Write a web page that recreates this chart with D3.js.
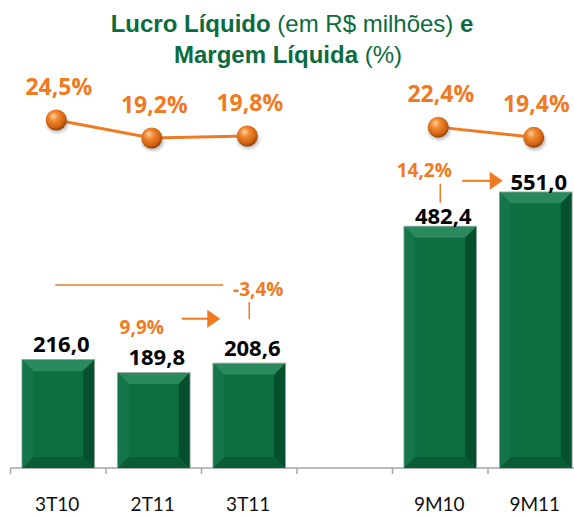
<!DOCTYPE html>
<html>
<head>
<meta charset="utf-8">
<script src="https://cdn.jsdelivr.net/npm/d3@7/dist/d3.min.js"></script>
<style>
  html, body { margin: 0; padding: 0; background: #fff; }
  svg { display: block; }
</style>
</head>
<body>
<svg id="chart" width="574" height="516"></svg>
<script>
// ---- Data ----
const categories = ["3T10", "2T11", "3T11", "", "9M10", "9M11"];
const lucro = [216.0, 189.8, 208.6, null, 482.4, 551.0];       // R$ milhões
const margem = [24.5, 19.2, 19.8, null, 22.4, 19.4];           // %
const growthFrom = [1, 0, 4];      // index of start category
const growthTo = [2, 2, 5];        // index of end category
const growthValues = [9.9, -3.4, 14.2];

// ---- Setup ----
const W = 574, H = 516;
const svg = d3.select("#chart");
const green = "#0B6B3E";
const orange = "#F07A22";
const numFont = "Open Sans, Lato, sans-serif";
const ptBR = d3.formatLocale({decimal: ",", thousands: ".", grouping: [3], currency: ["R$", ""], minus: "-"});
const fmt1 = ptBR.format(".1f");

const idx = d3.range(categories.length);
const x = d3.scaleBand().domain(idx).range([10.5, 583.5]).paddingInner(0.25).paddingOuter(0.125);
const y = d3.scaleLinear().domain([0, 600]).range([468, 168]);
const yM = d3.scaleLinear().domain([19.2, 24.5]).range([138, 120]);

const defs = svg.append("defs");
const rg = defs.append("radialGradient").attr("id", "ball").attr("cx", "45%").attr("cy", "40%").attr("r", "60%").attr("fx", "35%").attr("fy", "30%");
rg.append("stop").attr("offset", "0%").attr("stop-color", "#FFD2A6");
rg.append("stop").attr("offset", "35%").attr("stop-color", "#F28A33");
rg.append("stop").attr("offset", "80%").attr("stop-color", "#D0620F");
rg.append("stop").attr("offset", "100%").attr("stop-color", "#8A3D06");
const blur = defs.append("filter").attr("id", "sh").attr("x", "-50%").attr("y", "-50%").attr("width", "200%").attr("height", "200%");
blur.append("feGaussianBlur").attr("stdDeviation", 1.5);

// ---- Title ----
const title = svg.append("text").attr("text-anchor", "middle")
  .attr("font-family", "Liberation Sans, Arial, sans-serif").attr("font-size", 24).attr("fill", green);
const l1 = title.append("tspan").attr("x", 292).attr("y", 32);
l1.append("tspan").attr("font-weight", "bold").text("Lucro Líquido");
l1.append("tspan").text(" (em R$ milhões) ");
l1.append("tspan").attr("font-weight", "bold").text("e");
const l2 = title.append("tspan").attr("x", 288).attr("y", 63);
l2.append("tspan").attr("font-weight", "bold").text("Margem Líquida");
l2.append("tspan").text(" (%)");

// ---- Axis ----
const axisG = svg.append("g").attr("transform", "translate(0,468)");
axisG.append("line").attr("x1", 10.5).attr("x2", W).attr("y1", 0).attr("y2", 0)
  .attr("stroke", "#A6A6A6").attr("stroke-width", 1.5);
const bounds = idx.map(i => x(i) - x.step() * 0.125).concat([x(idx.length - 1) + x.bandwidth() + x.step() * 0.125]);
axisG.selectAll("line.tick").data(bounds.filter(b => b < W)).join("line").attr("class", "tick")
  .attr("x1", d => d).attr("x2", d => d).attr("y1", 0).attr("y2", 6)
  .attr("stroke", "#A6A6A6").attr("stroke-width", 1.5);
svg.append("g").selectAll("text").data(idx).join("text")
  .attr("x", i => x(i) + x.bandwidth() / 2 - 1).attr("y", 511)
  .attr("text-anchor", "middle").attr("font-family", "Lato, sans-serif").attr("font-size", 19)
  .attr("fill", "#111").text(i => categories[i]);

// ---- Bars (beveled) ----
const barData = idx.filter(i => lucro[i] != null);
const bars = svg.append("g").selectAll("g").data(barData).join("g");
bars.each(function(i) {
  const g = d3.select(this);
  const x0 = x(i), w = x.bandwidth(), y0 = y(lucro[i]), h = y(0) - y(lucro[i]);
  const b = 11;
  const pts = a => a.map(p => p.join(",")).join(" ");
  g.append("rect").attr("x", x0 - 0.5).attr("y", y0 - 0.5).attr("width", w + 1).attr("height", h + 0.5)
    .attr("fill", "none").attr("stroke", "#9aa8a0").attr("stroke-width", 1);
  g.append("rect").attr("x", x0).attr("y", y0).attr("width", w).attr("height", h).attr("fill", "#0D7144");
  g.append("polygon").attr("points", pts([[x0, y0], [x0 + w, y0], [x0 + w - b, y0 + b], [x0 + b, y0 + b]])).attr("fill", "#2A8A5D");
  g.append("polygon").attr("points", pts([[x0, y0], [x0 + b, y0 + b], [x0 + b, y0 + h - b], [x0, y0 + h]])).attr("fill", "#137549");
  g.append("polygon").attr("points", pts([[x0 + w, y0], [x0 + w, y0 + h], [x0 + w - b, y0 + h - b], [x0 + w - b, y0 + b]])).attr("fill", "#07502F");
  g.append("polygon").attr("points", pts([[x0, y0 + h], [x0 + w, y0 + h], [x0 + w - b, y0 + h - b], [x0 + b, y0 + h - b]])).attr("fill", "#0A5C36");
  g.append("rect").attr("x", x0 + b).attr("y", y0 + b).attr("width", w - 2 * b).attr("height", Math.max(0, h - 2 * b)).attr("fill", "#0C6E41");
});
// bar value labels
const labelGap = i => (i >= 4 ? 3 : 8);
svg.append("g").selectAll("text").data(barData).join("text")
  .attr("x", i => x(i) + x.bandwidth() / 2 + 3).attr("y", i => y(lucro[i]) - labelGap(i))
  .attr("text-anchor", "middle").attr("font-family", numFont).attr("font-weight", "bold")
  .attr("font-size", 22).attr("fill", "#000").text(i => fmt1(lucro[i]));

// ---- Margin line ----
const mx = i => x(i) + x.bandwidth() / 2 - 2;
const line = d3.line().defined(i => margem[i] != null).x(mx).y(i => yM(margem[i]));
svg.append("path").datum(idx).attr("d", line).attr("fill", "none").attr("stroke", orange).attr("stroke-width", 3);
const dotData = idx.filter(i => margem[i] != null);
svg.append("g").selectAll("ellipse").data(dotData).join("ellipse")
  .attr("cx", i => mx(i) + 1).attr("cy", i => yM(margem[i]) + 3).attr("rx", 11).attr("ry", 10)
  .attr("fill", "#777").attr("opacity", 0.45).attr("filter", "url(#sh)");
svg.append("g").selectAll("circle").data(dotData).join("circle")
  .attr("cx", mx).attr("cy", i => yM(margem[i])).attr("r", 10.5).attr("fill", "url(#ball)");
svg.append("g").selectAll("text").data(dotData).join("text")
  .attr("x", i => mx(i) + 2.5).attr("y", i => yM(margem[i]) - 25)
  .attr("text-anchor", "middle").attr("font-family", numFont).attr("font-weight", "bold")
  .attr("font-size", 23).attr("fill", orange).text(i => fmt1(margem[i]) + "%");

// ---- Growth annotations ----
const ann = svg.append("g").attr("stroke", orange).attr("fill", orange);
const cx = i => x(i) + x.bandwidth() / 2;
const annText = (tx, ty, v) => svg.append("text").attr("x", tx).attr("y", ty).attr("text-anchor", "middle")
  .attr("font-family", numFont).attr("font-weight", "bold").attr("font-size", 19)
  .attr("fill", orange).text(fmt1(v) + "%");
function arrow(x1, x2, yy) {
  ann.append("line").attr("x1", x1).attr("x2", x2 - 11).attr("y1", yy).attr("y2", yy).attr("stroke-width", 2);
  ann.append("path").attr("stroke", "none")
    .attr("d", `M${x2 - 13},${yy - 9} L${x2},${yy} L${x2 - 13},${yy + 9} Z`);
}
// 2T11 -> 3T11
{
  const a = growthFrom[0], b = growthTo[0];
  const yy = y(Math.max(lucro[a], lucro[b])) - 45;
  annText(cx(a) - 12, yy + 15, growthValues[0]);
  arrow(cx(a) + 28, cx(b) - 29, yy);
}
// 3T10 -> 3T11
{
  const a = growthFrom[1], b = growthTo[1];
  const yy = y(Math.max(lucro[a], lucro[b])) - 75;
  ann.append("line").attr("x1", cx(a) - 3).attr("x2", cx(b) - 26).attr("y1", yy).attr("y2", yy).attr("stroke-width", 1.5);
  annText(cx(b) + 9, yy + 11, growthValues[1]);
  ann.append("line").attr("x1", cx(b)).attr("x2", cx(b)).attr("y1", yy + 17).attr("y2", yy + 34).attr("stroke-width", 1.5);
}
// 9M10 -> 9M11
{
  const a = growthFrom[2], b = growthTo[2];
  const yy = y(lucro[a]) - 46;
  annText(cx(a) - 16, yy - 4, growthValues[2]);
  ann.append("line").attr("x1", cx(a)).attr("x2", cx(a)).attr("y1", yy + 3).attr("y2", yy + 22).attr("stroke-width", 1.5);
  arrow(cx(a) + 22, cx(b) - 33, yy);
}
</script>
</body>
</html>
